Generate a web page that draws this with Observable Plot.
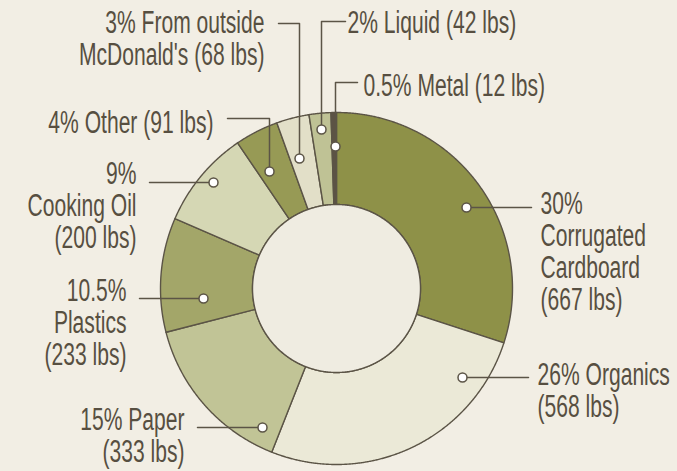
<!DOCTYPE html>
<html><head><meta charset="utf-8">
<script src="https://cdn.jsdelivr.net/npm/d3@7"></script>
<script src="https://cdn.jsdelivr.net/npm/@observablehq/plot@0.6"></script>
<style>
html,body{margin:0;padding:0;background:#f2eee4;}
#chart svg{display:block;}
</style></head><body><div id="chart"></div>
<script>
// ---- data ----
const categories = ["Corrugated Cardboard","Organics","Paper","Plastics","Cooking Oil","Other","From outside McDonald's","Liquid","Metal"];
const percents = [30, 26, 15, 10.5, 9, 4, 3, 2, 0.5];
const pounds = [667, 568, 333, 233, 200, 91, 68, 42, 12];
const labelTexts = [
  "30%\nCorrugated\nCardboard\n(667 lbs)",
  "26% Organics\n(568 lbs)",
  "15% Paper\n(333 lbs)",
  "10.5%\nPlastics\n(233 lbs)",
  "9%\nCooking Oil\n(200 lbs)",
  "4% Other (91 lbs)",
  "3% From outside\nMcDonald's (68 lbs)",
  "2% Liquid (42 lbs)",
  "0.5% Metal (12 lbs)"
];
const sliceColors = ["#8e9148","#ebe9d7","#c1c496","#a3a669","#d5d7b4","#979a55","#e2dfc8","#bfc295","#5c5345"];

// ---- layout (pixel space of the scales) ----
const W = 677, H = 471;
const cx = 336, cy = 288, R = 176, R0 = 84;
const ink = "#5b5446";
const fontSize = 31, lineH = 32, squeeze = 0.68;
// label anchors: dot + leader polyline + text anchor
const labelLayout = [
  {pts:[[466,207],[531,207]], tx:540, ty:203.5, anchor:"start"},
  {pts:[[462,377],[528,377]], tx:537, ty:374, anchor:"start"},
  {pts:[[262,427],[197,427]], tx:184, ty:419.5, anchor:"end"},
  {pts:[[203,298],[139,298]], tx:126, ty:290, anchor:"end"},
  {pts:[[213,182],[149,182]], tx:136, ty:173, anchor:"end"},
  {pts:[[269,171],[269,118],[227,118]], tx:213, ty:122, anchor:"end"},
  {pts:[[299,158],[299,23],[278,23]], tx:264, ty:22, anchor:"end"},
  {pts:[[321,129],[321,21],[345,21]], tx:347, ty:22, anchor:"start"},
  {pts:[[335,146],[335,82],[357,82]], tx:363, ty:85, anchor:"start"}
];

const rows = categories.map((name, i) => ({name, pct: percents[i], lbs: pounds[i], color: sliceColors[i], label: labelTexts[i]}));
const arcs = d3.pie().sort(null).value(d => d.pct).startAngle(0).endAngle(2 * Math.PI)(rows);

const pt = (r, a) => ({x: cx + r * Math.sin(a), y: cy - r * Math.cos(a)});
const slicePts = [];
arcs.forEach(a => {
  const n = Math.max(2, Math.ceil((a.endAngle - a.startAngle) / 0.005));
  const poly = [];
  for (let k = 0; k <= n; k++) poly.push(pt(R, a.startAngle + (a.endAngle - a.startAngle) * k / n));
  for (let k = n; k >= 0; k--) poly.push(pt(R0, a.startAngle + (a.endAngle - a.startAngle) * k / n));
  poly.push(poly[0]);
  poly.forEach(p => slicePts.push({...p, name: a.data.name, color: a.data.color}));
});
const holePts = d3.range(0, 721).map(k => pt(R0, 2 * Math.PI * k / 720));

const leaderPts = [];
labelLayout.forEach((l, i) => l.pts.forEach(([x, y]) => leaderPts.push({x, y, name: categories[i]})));
const dots = labelLayout.map((l, i) => ({x: l.pts[0][0], y: l.pts[0][1], name: categories[i]}));
const texts = labelLayout.map((l, i) => {
  const n = labelTexts[i].split("\n").length;
  return {x: l.tx, y: l.ty + (n - 1) / 2 * lineH, text: labelTexts[i], anchor: l.anchor};
});

const textOpts = {x: "x", y: "y", text: "text", fontSize, lineHeight: lineH / fontSize, fill: "#574f41",
  fontFamily: "'Liberation Sans Narrow', 'Liberation Sans', sans-serif", lineAnchor: "middle"};

const chart = Plot.plot({
  width: W, height: H, margin: 0,
  x: {domain: [0, W], range: [0, W], axis: null},
  y: {domain: [0, H], range: [0, H], axis: null},
  color: {type: "identity"},
  style: {background: "transparent", overflow: "visible"},
  marks: [
    Plot.line(slicePts, {x: "x", y: "y", z: "name", fill: "color", stroke: ink, strokeWidth: 1.4, curve: "linear", strokeLinejoin: "round"}),
    Plot.line(holePts, {x: "x", y: "y", fill: "#efece1", stroke: ink, strokeWidth: 1.4}),
    Plot.line(leaderPts, {x: "x", y: "y", z: "name", stroke: ink, strokeWidth: 1.5}),
    Plot.dot(dots, {x: "x", y: "y", r: 4.5, fill: "white", stroke: ink, strokeWidth: 1.5}),
    Plot.text(texts.filter(d => d.anchor === "start"), {...textOpts, textAnchor: "start"}),
    Plot.text(texts.filter(d => d.anchor === "end"), {...textOpts, textAnchor: "end"})
  ]
});
document.getElementById("chart").appendChild(chart);
// condense glyphs horizontally around each text's anchor edge
const NS = "http://www.w3.org/2000/svg";
Array.from(chart.querySelectorAll("text")).forEach(t => {
  const g = document.createElementNS(NS, "g");
  t.parentNode.insertBefore(g, t);
  g.appendChild(t);
  const b = g.getBBox();
  const holder = t.closest("[text-anchor]");
  const anchor = t.getAttribute("text-anchor") || (holder && holder.getAttribute("text-anchor")) || "start";
  const ax = anchor === "end" ? b.x + b.width : anchor === "middle" ? b.x + b.width / 2 : b.x;
  g.setAttribute("transform", `translate(${ax},0) scale(${squeeze},1) translate(${-ax},0)`);
});
</script>
</body></html>
